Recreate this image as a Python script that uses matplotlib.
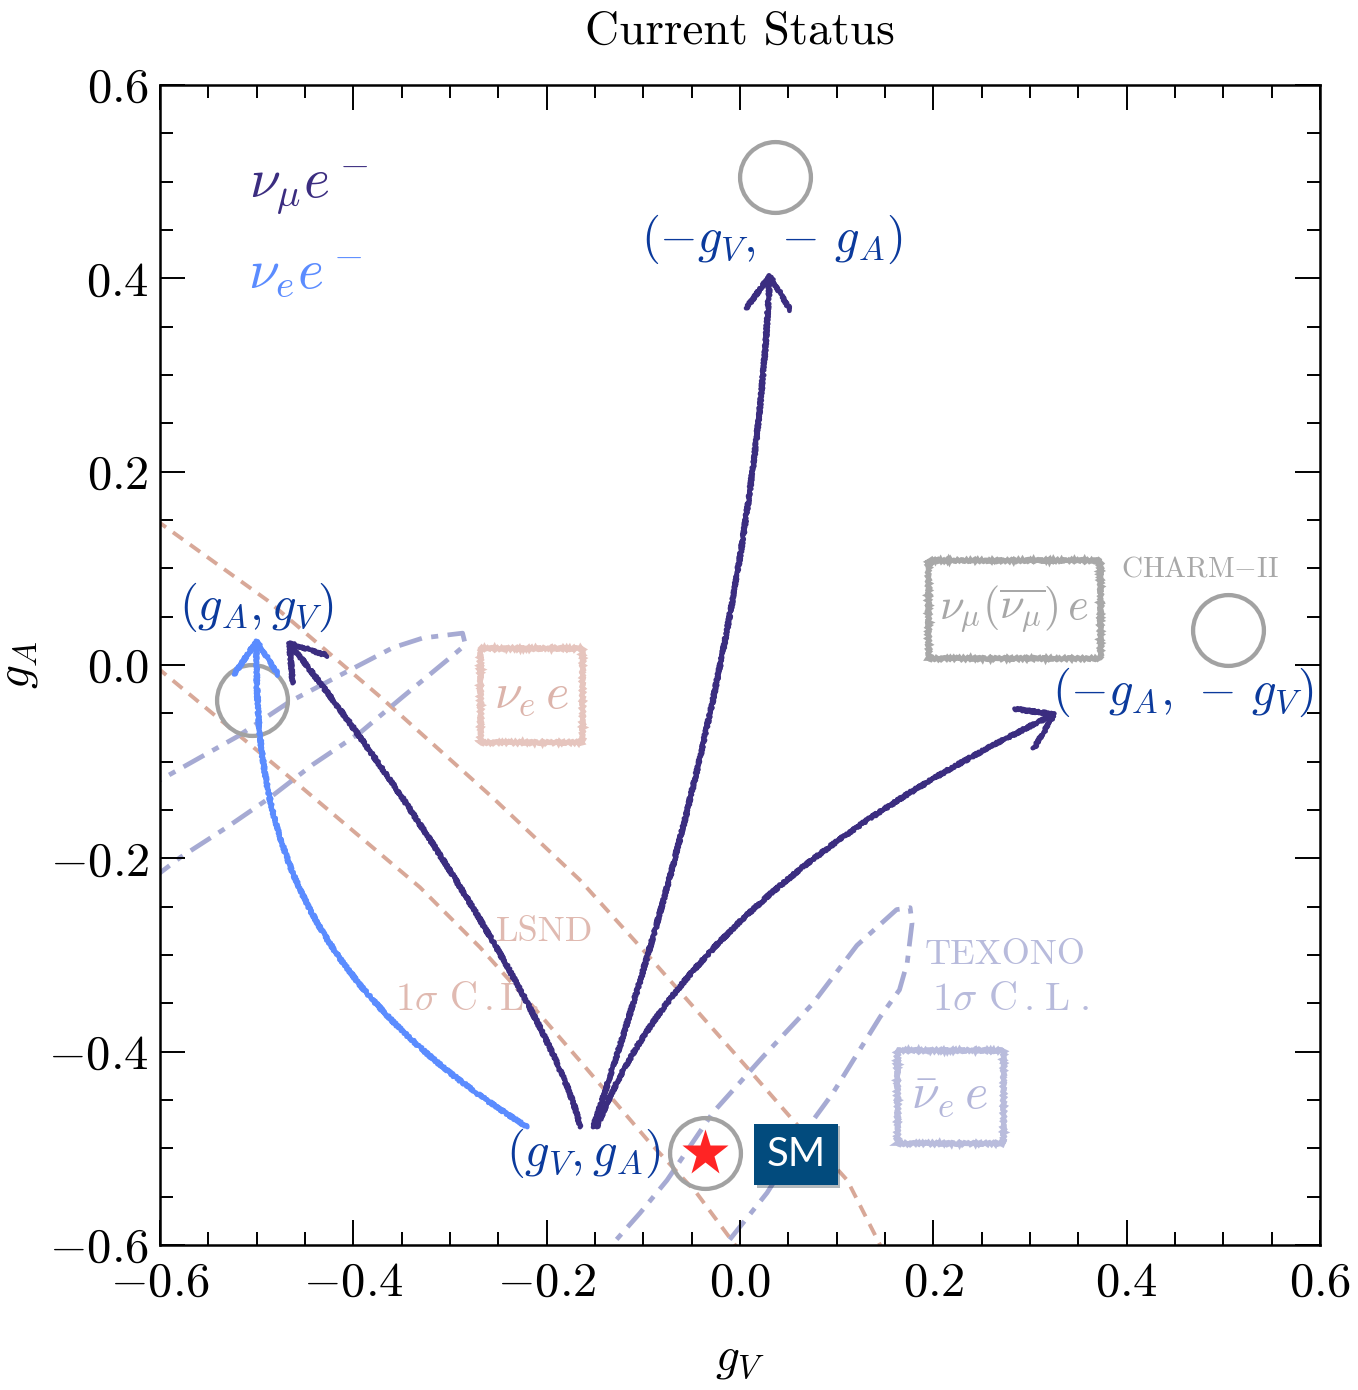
import matplotlib
matplotlib.use('Agg')
import matplotlib.pyplot as plt
import matplotlib.patheffects as pe
from matplotlib.path import Path
from matplotlib.patches import FancyArrowPatch, Rectangle
from matplotlib.ticker import MultipleLocator

plt.rcParams['mathtext.fontset'] = 'cm'
plt.rcParams['font.family'] = 'serif'
plt.rcParams['font.serif'] = ['cmr10']
plt.rcParams['axes.formatter.use_mathtext'] = True

# SM point (gV, gA)
gV, gA = -0.036, -0.505

# LSND 1 sigma band edges (nu_e e)
lsnd_hi_x = [-0.62, -0.600, -0.489, -0.372, -0.256, -0.166, -0.100, 0.007, 0.055, 0.111, 0.145, 0.158]
lsnd_hi_y = [0.165, 0.147, 0.067, -0.033, -0.137, -0.222, -0.295, -0.416, -0.471, -0.533, -0.600, -0.620]
lsnd_lo_x = [-0.62, -0.600, -0.466, -0.331, -0.269, -0.217, -0.166, -0.096, -0.045, -0.005, 0.010]
lsnd_lo_y = [0.012, -0.005, -0.116, -0.230, -0.292, -0.350, -0.409, -0.491, -0.546, -0.600, -0.618]

# TEXONO 1 sigma contours (anti-nu_e e)
tex1_x = [-0.62, -0.600, -0.520, -0.466, -0.407, -0.359, -0.328, -0.287, -0.284, -0.297,
          -0.349, -0.393, -0.442, -0.486, -0.531, -0.579, -0.600, -0.62]
tex1_y = [-0.131, -0.119, -0.074, -0.038, -0.007, 0.018, 0.028, 0.033, 0.021, 0.010,
          -0.033, -0.070, -0.103, -0.137, -0.168, -0.199, -0.215, -0.232]
tex2_x = [-0.150, -0.1345, -0.1035, -0.0755, -0.028, 0.024, 0.0755, 0.121, 0.162, 0.176,
          0.178, 0.173, 0.165, 0.145, 0.096, 0.0755, 0.028, -0.0135, -0.027]
tex2_y = [-0.620, -0.602, -0.567, -0.533, -0.463, -0.405, -0.350, -0.290, -0.253, -0.251,
          -0.267, -0.308, -0.336, -0.364, -0.443, -0.471, -0.546, -0.598, -0.616]

# hand-drawn arrows: (colour, control points), start near (gV, gA) label
nu_mu_col = '#3b2d80'
nu_e_col = '#5b8cff'
arrow_pts = [
    (nu_mu_col, [(-0.152, -0.478), (0.013, 0.005), (0.031, 0.407)]),
    (nu_mu_col, [(-0.148, -0.478), (-0.053, -0.233), (0.329, -0.049)]),
    (nu_mu_col, [(-0.1655, -0.478), (-0.181, -0.398), (-0.321, -0.160), (-0.469, 0.026)]),
    (nu_e_col, [(-0.220, -0.478), (-0.476, -0.318), (-0.502, -0.140), (-0.500, 0.029)]),
]

# process boxes: (x0, y0, x1, y1, label, edge colour, text colour, fontsize)
boxes = [
    (-0.269, -0.080, -0.163, 0.018, r'$\nu_e\,e$', '#e6c5be', '#dcb4ab', 36),
    (0.194, 0.007, 0.372, 0.109, r'$\nu_\mu(\overline{\nu_\mu})\,e$', '#a8a8a8', '#a8a8a8', 32),
    (0.162, -0.494, 0.272, -0.398, r'$\bar{\nu}_e\,e$', '#b9bcdc', '#b4b7da', 36),
]

label_blue = '#0b3a9c'
gray = '#a2a2a2'
lsnd_col = '#d8a898'
tex_col = '#a6aad3'

fig = plt.figure(figsize=(13.58, 13.90), dpi=100)
ax = fig.add_axes([0.1178, 0.1043, 0.8542, 0.8345])
ax.set_xlim(-0.6, 0.6)
ax.set_ylim(-0.6, 0.6)

# constraint curves
for xs, ys in [(lsnd_hi_x, lsnd_hi_y), (lsnd_lo_x, lsnd_lo_y)]:
    ax.plot(xs, ys, color=lsnd_col, lw=2.8, ls=(0, (3.2, 2.2)), zorder=1)
for xs, ys in [(tex1_x, tex1_y), (tex2_x, tex2_y)]:
    ax.plot(xs, ys, color=tex_col, lw=3.4, ls=(0, (5, 2, 1.5, 2)), zorder=1)

# SM and its images
ax.plot([gV, -gV, gA, -gA], [gA, -gA, gV, -gV], 'o', ms=51, mfc='none',
        mec=gray, mew=3.1, zorder=3)
ax.plot([gV], [gA], '*', ms=35, color='#ff2424', mec='none', zorder=4)

# arrows
for col, pts in arrow_pts:
    codes = [Path.MOVETO] + [Path.CURVE3] * 2 if len(pts) == 3 else [Path.MOVETO] + [Path.CURVE4] * 3
    arr = FancyArrowPatch(path=Path(pts, codes), arrowstyle='->,head_length=0.6,head_width=0.4',
                          mutation_scale=40, color=col, lw=3.4, zorder=5)
    arr.set_sketch_params(1.3, 3, 2)
    ax.add_patch(arr)

# coordinate labels
kw = dict(color=label_blue, fontsize=35, ha='center', va='center', zorder=6)
ax.text(0.033, 0.440, r'$(-g_V,\,-\,g_A)$', **kw)
ax.text(-0.500, 0.060, r'$(g_A,g_V)$', **kw)
ax.text(0.458, -0.028, r'$(-g_A,\,-\,g_V)$', **kw)
ax.text(-0.162, -0.505, r'$(g_V,g_A)$', **kw)

# SM tag
sm = ax.text(0.058, -0.506, 'SM', family='Lato', fontsize=29, color='white',
             ha='center', va='center', zorder=6,
             bbox=dict(boxstyle='square,pad=0.3', fc='#024b7d', ec='none'))
sm.get_bbox_patch().set_path_effects([pe.SimplePatchShadow(offset=(2, -2), alpha=0.3), pe.Normal()])

# legend-like labels
ax.text(-0.446, 0.491, r'$\nu_\mu e^-$', color=nu_mu_col, fontsize=40, ha='center', va='center')
ax.text(-0.450, 0.403, r'$\nu_e e^-$', color=nu_e_col, fontsize=40, ha='center', va='center')

# boxed process labels
for x0, y0, x1, y1, s, ec, tc, fs in boxes:
    r = Rectangle((x0, y0), x1 - x0, y1 - y0, fc='none', ec=ec, lw=3.4, zorder=2)
    r.set_sketch_params(1.2, 4, 2)
    ax.add_patch(r)
    ax.text((x0 + x1) / 2, (y0 + y1) / 2, s, color=tc, fontsize=fs, ha='center', va='center', zorder=2)

# experiment names
ax.text(0.476, 0.099, r'CHARM$-$II', color='#a8a8a8', fontsize=21, ha='center', va='center')
ax.text(-0.202, -0.276, 'LSND', color='#e0bab1', fontsize=26, ha='center', va='center')
ax.text(-0.282, -0.347, r'1$\sigma$ C$\,$.$\,$L$\,$.', color='#e0bab1', fontsize=28, ha='center', va='center')
ax.text(0.274, -0.300, 'TEXONO', color='#b8bbdc', fontsize=26, ha='center', va='center')
ax.text(0.199, -0.347, r'1$\sigma$ C$\,$.$\;$L$\;$.', color='#b8bbdc', fontsize=29, ha='left', va='center')

# axes styling
ax.xaxis.set_major_locator(MultipleLocator(0.2))
ax.yaxis.set_major_locator(MultipleLocator(0.2))
ax.xaxis.set_minor_locator(MultipleLocator(0.05))
ax.yaxis.set_minor_locator(MultipleLocator(0.05))
ax.tick_params(which='both', direction='in', top=True, right=True, width=1.4, colors='black')
ax.tick_params(which='major', length=18, labelsize=35)
ax.tick_params(axis='x', which='major', pad=12)
ax.tick_params(axis='y', which='major', pad=8)
ax.tick_params(which='minor', length=9.5)
for sp in ax.spines.values():
    sp.set_linewidth(1.8)

ax.set_title('Current Status', fontsize=34, pad=30)
ax.set_xlabel(r'$g_V$', fontsize=34, labelpad=24)
ax.set_ylabel(r'$g_A$', fontsize=34, labelpad=6)

fig.savefig('out.png', dpi=100, facecolor='white')
